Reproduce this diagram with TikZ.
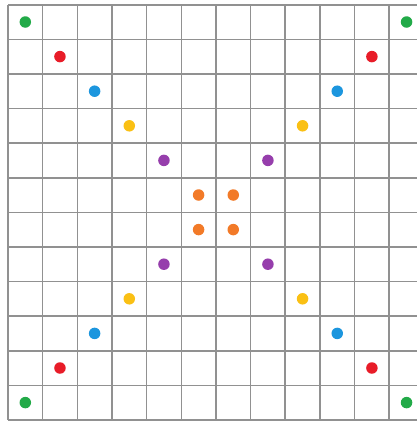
\documentclass[tikz,border=0pt]{standalone}
\definecolor{gridgray}{RGB}{145,145,145}
\definecolor{dgreen}{RGB}{34,170,72}
\definecolor{dred}{RGB}{232,28,40}
\definecolor{dblue}{RGB}{28,150,222}
\definecolor{dyellow}{RGB}{250,192,20}
\definecolor{dpurple}{RGB}{150,62,172}
\definecolor{dorange}{RGB}{242,122,40}
\begin{document}
\begin{tikzpicture}[x=1pt,y=-1pt,
  gridline/.style={draw=gridgray,line width=1.6pt},
  dot/.style={circle,inner sep=0pt,minimum size=11.5pt}]
\fill[white] (0,0) rectangle (417,421);
\useasboundingbox (0,0) rectangle (417,421);
\begin{scope}
\clip (0,0) rectangle (417,421);
\foreach \i in {0,...,12}{
  \draw[gridline] ({8+34.66*\i},4.7) -- ({8+34.66*\i},420);
  \draw[gridline] (8,{4.7+34.6*\i}) -- (424,{4.7+34.6*\i});
}
\end{scope}
\foreach \k/\c in {0/dgreen,1/dred,2/dblue,3/dyellow,4/dpurple,5/dorange}{
  \pgfmathsetmacro\a{\k}
  \pgfmathsetmacro\b{11-\k}
  \node[dot,fill=\c] (d\k a) at ({25.3+34.66*\a},{22+34.6*\a}) {};
  \node[dot,fill=\c] (d\k b) at ({25.3+34.66*\b},{22+34.6*\a}) {};
  \node[dot,fill=\c] (d\k c) at ({25.3+34.66*\a},{22+34.6*\b}) {};
  \node[dot,fill=\c] (d\k d) at ({25.3+34.66*\b},{22+34.6*\b}) {};
}
\end{tikzpicture}
\end{document}
